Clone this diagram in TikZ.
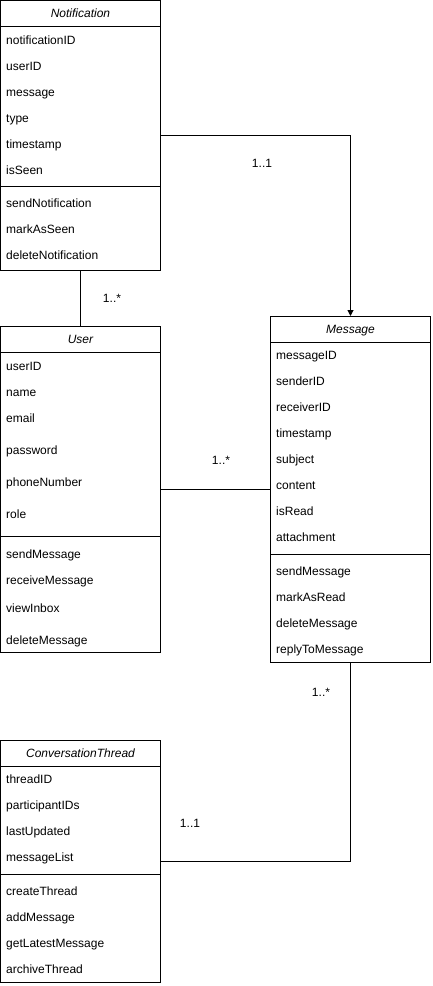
\documentclass[tikz,border=0pt]{standalone}
\usepackage{fontspec}
\setmainfont{Liberation Sans}
\usetikzlibrary{arrows.meta}
\begin{document}
\begin{tikzpicture}[x=1pt,y=-1pt,
  every node/.style={font=\fontsize{12}{14}\selectfont},
  classbox/.style={draw=black,line width=1pt,fill=white,anchor=north west,inner sep=0pt,outer sep=0pt},
  ctitle/.style={inner sep=0pt,anchor=base,font=\fontsize{12}{14}\selectfont\itshape},
  attr/.style={inner sep=0pt,anchor=base west},
  mult/.style={inner sep=0pt,anchor=base},
  conn/.style={draw=black,line width=1pt},
  sepline/.style={draw=black,line width=1pt}]
\useasboundingbox (0,0) rectangle (432,986);
\fill[white] (0,0) rectangle (432,986);

% Notification
\node[classbox,minimum width=160pt,minimum height=269.5pt] (notif) at (0.5,0.5) {};
\node[ctitle] (notifT) at (80.5,17.3) {Notification};
\draw[sepline] (0.5,26) -- (160.5,26);
\draw[sepline] (0.5,186) -- (160.5,186);
\foreach \t/\y [count=\i] in {notificationID/40,userID/66,message/92,type/118,timestamp/144,isSeen/170,sendNotification/203,markAsSeen/229,deleteNotification/255}
  \node[attr] (na\i) at (6,\y+4.3) {\t};

% User
\node[classbox,minimum width=160pt,minimum height=326pt] (user) at (0.5,326) {};
\node[ctitle] (userT) at (80.5,343.3) {User};
\draw[sepline] (0.5,352) -- (160.5,352);
\draw[sepline] (0.5,536) -- (160.5,536);
\foreach \t/\y [count=\i] in {userID/366,name/392,email/418,password/450,phoneNumber/482,role/514,sendMessage/554,receiveMessage/580,viewInbox/608,deleteMessage/640}
  \node[attr] (ua\i) at (6,\y+4.3) {\t};

% Message
\node[classbox,minimum width=160pt,minimum height=346pt] (msg) at (270.5,316) {};
\node[ctitle] (msgT) at (350.5,333.3) {Message};
\draw[sepline] (270.5,342) -- (430.5,342);
\draw[sepline] (270.5,554) -- (430.5,554);
\foreach \t/\y [count=\i] in {messageID/355,senderID/381,receiverID/407,timestamp/433,subject/459,content/485,isRead/511,attachment/537,sendMessage/571,markAsRead/597,deleteMessage/623,replyToMessage/649}
  \node[attr] (ma\i) at (276,\y+4.3) {\t};

% ConversationThread
\node[classbox,minimum width=160pt,minimum height=242pt] (thread) at (0.5,740) {};
\node[ctitle] (threadT) at (80.5,757.3) {ConversationThread};
\draw[sepline] (0.5,766) -- (160.5,766);
\draw[sepline] (0.5,874) -- (160.5,874);
\foreach \t/\y [count=\i] in {threadID/779,participantIDs/805,lastUpdated/831,messageList/857,createThread/891,addMessage/917,getLatestMessage/943,archiveThread/969}
  \node[attr] (ta\i) at (6,\y+4.3) {\t};

% connectors
\draw[conn,-{Triangle[length=6pt,width=6pt]}] (notif.east) -| (msg.north);
\draw[conn] (notif.south) -- (user.north);
\draw[conn] (user.east) -- (msg.west);
\draw[conn] (msg.south) |- (thread.east);

% multiplicities
\node[mult] (m1) at (262,167.5) {1..1};
\node[mult] (m2) at (112,302.5) {1..*};
\node[mult] (m3) at (221,464.5) {1..*};
\node[mult] (m4) at (321,696.5) {1..*};
\node[mult] (m5) at (190,827.5) {1..1};
\end{tikzpicture}
\end{document}
